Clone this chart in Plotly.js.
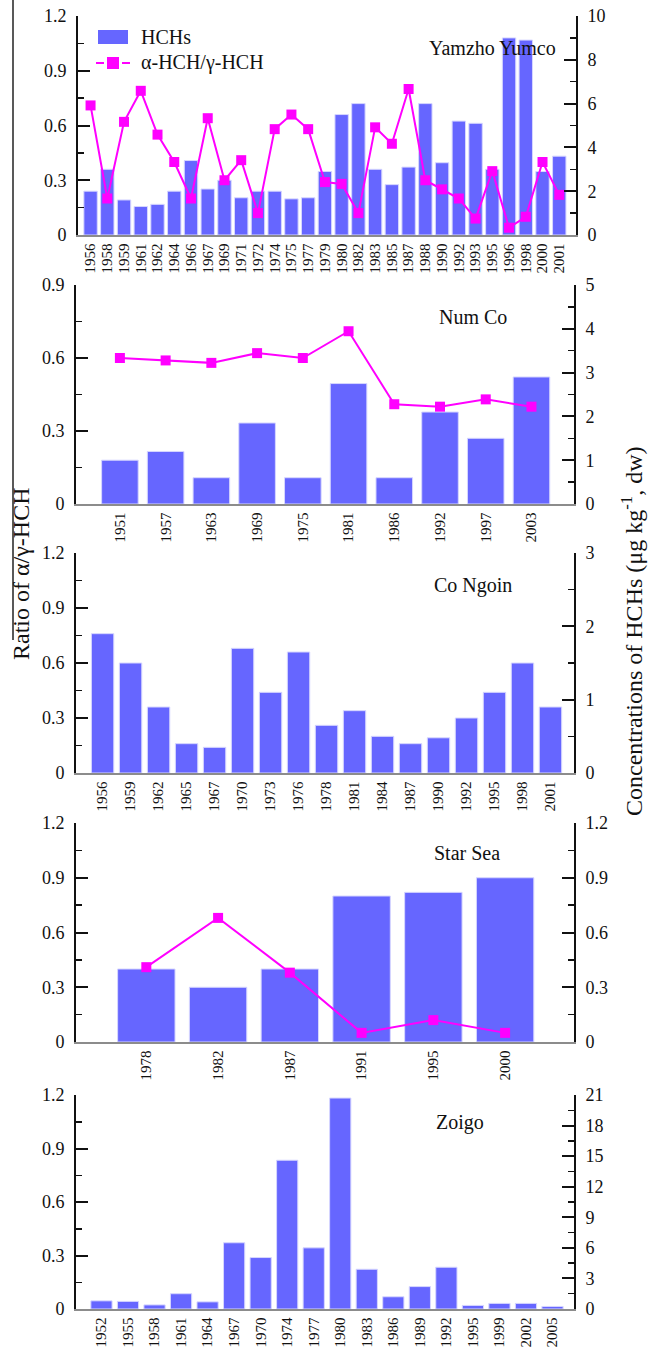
<!DOCTYPE html>
<html>
<head>
<meta charset="utf-8">
<script src="https://cdn.plot.ly/plotly-3.0.1.min.js"></script>
<style>html,body{margin:0;padding:0;background:#fff;}#chart{width:652px;height:1349px;}</style>
</head>
<body>
<div id="chart"></div>
<script>
// ---------- DATA ----------
const yamYears = ["1956","1958","1959","1961","1962","1964","1966","1967","1969","1971","1972","1974","1975","1977","1979","1980","1982","1983","1985","1987","1988","1990","1992","1993","1995","1996","1998","2000","2001"];
const yamHCH   = [2.0,3.0,1.6,1.3,1.4,2.0,3.4,2.1,2.5,1.7,2.0,2.0,1.65,1.7,2.9,5.5,6.0,3.0,2.3,3.1,6.0,3.3,5.2,5.1,3.0,9.0,8.9,2.9,3.6];
const yamRatio = [0.71,0.20,0.62,0.79,0.55,0.40,0.20,0.64,0.30,0.41,0.12,0.58,0.66,0.58,0.29,0.28,0.12,0.59,0.50,0.80,0.30,0.25,0.20,0.09,0.35,0.04,0.10,0.40,0.22];

const numYears = ["1951","1957","1963","1969","1975","1981","1986","1992","1997","2003"];
const numHCH   = [1.0,1.2,0.6,1.85,0.6,2.75,0.6,2.1,1.5,2.9];
const numRatio = [0.60,0.59,0.58,0.62,0.60,0.71,0.41,0.40,0.43,0.40];

const cngYears = ["1956","1959","1962","1965","1967","1970","1973","1976","1978","1981","1984","1987","1990","1992","1995","1998","2001"];
const cngHCH   = [1.9,1.5,0.9,0.4,0.35,1.7,1.1,1.65,0.65,0.85,0.5,0.4,0.48,0.75,1.1,1.5,0.9];

const starYears = ["1978","1982","1987","1991","1995","2000"];
const starHCH   = [0.40,0.30,0.40,0.80,0.82,0.90];
const starRatio = [0.41,0.68,0.38,0.05,0.12,0.05];

const zoiYears = ["1952","1955","1958","1961","1964","1967","1970","1974","1977","1980","1983","1986","1989","1992","1995","1999","2002","2005"];
const zoiHCH   = [0.8,0.75,0.4,1.5,0.7,6.5,5.05,14.6,6.0,20.7,3.9,1.2,2.2,4.1,0.35,0.55,0.55,0.25];

const panelNames = ["Yamzho Yumco","Num Co","Co Ngoin","Star Sea","Zoigo"];
const legendNames = ["HCHs","α-HCH/γ-HCH"];

// ---------- LAYOUT HELPERS ----------
const W = 652, H = 1349;
const fx = p => p / W;
const fy = p => 1 - p / H;

const BAR = '#6666FF', LINE = '#FF00FF', INK = '#111';

const panels = [
  {years: yamYears, hch: yamHCH, ratio: yamRatio, top: 16, bot: 235, l: 78, r: 576, xr: [-0.75, 29.0],
   left: {range:[0,1.2], dtick:0.3, minor:0.15}, right: {range:[0,10], dtick:2, minor:1}, lab: {x: 427, y: 48}},
  {years: numYears, hch: numHCH, ratio: numRatio, top: 285, bot: 504, l: 76, r: 574, xr: [-0.96, 9.93],
   left: {range:[0,0.9], dtick:0.3, minor:0.15}, right: {range:[0,5], dtick:1, minor:0.5}, lab: {x: 437, y: 317}},
  {years: cngYears, hch: cngHCH, ratio: null, top: 553, bot: 773, l: 76, r: 574, xr: [-0.95, 16.84],
   left: {range:[0,1.2], dtick:0.3, minor:0.15}, right: {range:[0,3], dtick:1, minor:0.5}, lab: {x: 432, y: 585}},
  {years: starYears, hch: starHCH, ratio: starRatio, top: 823, bot: 1042, l: 76, r: 574, xr: [-0.98, 5.96],
   left: {range:[0,1.2], dtick:0.3, minor:0.15}, right: {range:[0,1.2], dtick:0.3, minor:0.15}, lab: {x: 432, y: 853}},
  {years: zoiYears, hch: zoiHCH, ratio: null, top: 1095, bot: 1309, l: 76, r: 574, xr: [-0.96, 17.81],
   left: {range:[0,1.2], dtick:0.3, minor:0.15}, right: {range:[0,21], dtick:3, minor:1.5}, lab: {x: 434, y: 1122}}
];

const FONT = 'Liberation Serif, "Times New Roman", Times, serif';

const layout = {
  width: W, height: H,
  margin: {l:0, r:0, t:0, b:0},
  paper_bgcolor: '#fff', plot_bgcolor: 'rgba(0,0,0,0)',
  font: {family: FONT, color: INK, size: 18},
  bargap: 0.2,
  showlegend: false,
  annotations: [],
  shapes: [
    {type:'line', xref:'paper', yref:'paper', x0: fx(13), x1: fx(13), y0: fy(0), y1: fy(640),
     line: {color: '#222', width: 1.5}},
    // manual legend symbols
    {type:'rect', xref:'paper', yref:'paper', x0: fx(98), x1: fx(128), y0: fy(44), y1: fy(30),
     fillcolor: BAR, line: {color: BAR, width: 0}},
    {type:'line', xref:'paper', yref:'paper', x0: fx(96), x1: fx(104), y0: fy(63), y1: fy(63),
     line: {color: LINE, width: 2}},
    {type:'line', xref:'paper', yref:'paper', x0: fx(122), x1: fx(130), y0: fy(63), y1: fy(63),
     line: {color: LINE, width: 2}},
    {type:'rect', xref:'paper', yref:'paper', x0: fx(107), x1: fx(119), y0: fy(69), y1: fy(57),
     fillcolor: LINE, line: {color: LINE, width: 0}}
  ]
};

const data = [];

function yAxis(spec, side, domain, anchor, overlaying) {
  const a = {
    domain: domain, anchor: anchor, side: side,
    range: spec.range, autorange: false, dtick: spec.dtick, tick0: 0,
    ticks: 'inside', ticklen: 12, tickwidth: 2, tickcolor: INK,
    minor: {ticks: 'inside', ticklen: 6, tickwidth: 1.5, tickcolor: INK, dtick: spec.minor, tick0: 0, showgrid: false},
    showline: true, linewidth: 2, linecolor: INK,
    showgrid: false, zeroline: false,
    tickfont: {family: FONT, size: 18, color: INK},
    ticklabelstandoff: 6
  };
  if (overlaying) a.overlaying = overlaying;
  return a;
}

panels.forEach((p, i) => {
  const n = i + 1;
  const xKey = n === 1 ? 'xaxis' : 'xaxis' + n;
  const xId = n === 1 ? 'x' : 'x' + n;
  const baseN = 2 * n - 1, overN = 2 * n;
  const baseKey = baseN === 1 ? 'yaxis' : 'yaxis' + baseN;
  const baseId = baseN === 1 ? 'y' : 'y' + baseN;
  const overKey = 'yaxis' + overN;
  const overId = 'y' + overN;
  const ydom = [fy(p.bot), fy(p.top)];

  layout[xKey] = {
    domain: [fx(p.l), fx(p.r)], anchor: baseId, type: 'category',
    range: p.xr, autorange: false, tickmode: 'linear', tick0: 0, dtick: 1,
    tickangle: -90, ticks: '',
    showline: true, linecolor: '#8c8c8c', linewidth: 1.5,
    showgrid: false, zeroline: false,
    tickfont: {family: FONT, size: 15, color: INK}, ticklabelstandoff: 1
  };
  // right axis (concentration) is the base so the ratio line is drawn on top
  layout[baseKey] = yAxis(p.right, 'right', ydom, xId, null);
  layout[overKey] = yAxis(p.left, 'left', ydom, xId, baseId);

  data.push({
    type: 'bar', name: legendNames[0], x: p.years, y: p.hch,
    xaxis: xId, yaxis: baseId,
    marker: {color: BAR, line: {color: '#d6d6ff', width: 1}},
    hoverinfo: 'x+y'
  });
  if (p.ratio) {
    data.push({
      type: 'scatter', mode: 'lines+markers', name: legendNames[1], x: p.years, y: p.ratio,
      xaxis: xId, yaxis: overId,
      line: {color: LINE, width: 2},
      marker: {symbol: 'square', size: 10, color: LINE},
      cliponaxis: false
    });
  } else {
    data.push({type: 'scatter', mode: 'markers', x: [], y: [], xaxis: xId, yaxis: overId,
               hoverinfo: 'skip'});
  }

  layout.annotations.push({
    xref: 'paper', yref: 'paper', x: fx(p.lab.x), y: fy(p.lab.y), xanchor: 'left', yanchor: 'middle',
    text: panelNames[i], showarrow: false, font: {family: FONT, size: 20, color: INK}
  });
});

// manual legend labels
layout.annotations.push({
  xref: 'paper', yref: 'paper', x: fx(139), y: fy(37), xanchor: 'left', yanchor: 'middle',
  text: legendNames[0], showarrow: false, font: {family: FONT, size: 20, color: INK}
});
layout.annotations.push({
  xref: 'paper', yref: 'paper', x: fx(139), y: fy(63), xanchor: 'left', yanchor: 'middle',
  text: legendNames[1], showarrow: false, font: {family: FONT, size: 20, color: INK}
});

layout.annotations.push({
  xref: 'paper', yref: 'paper', x: fx(21), y: fy(574), xanchor: 'center', yanchor: 'middle',
  text: 'Ratio of α/γ-HCH', textangle: -90, showarrow: false, font: {family: FONT, size: 24, color: INK}
});
layout.annotations.push({
  xref: 'paper', yref: 'paper', x: fx(632), y: fy(632), xanchor: 'center', yanchor: 'middle',
  text: 'Concentrations of HCHs (μg kg<sup>-1</sup>, dw)', textangle: -90, showarrow: false,
  font: {family: FONT, size: 24, color: INK}
});

Plotly.newPlot('chart', data, layout, {displayModeBar: false, staticPlot: true});
</script>
</body>
</html>
